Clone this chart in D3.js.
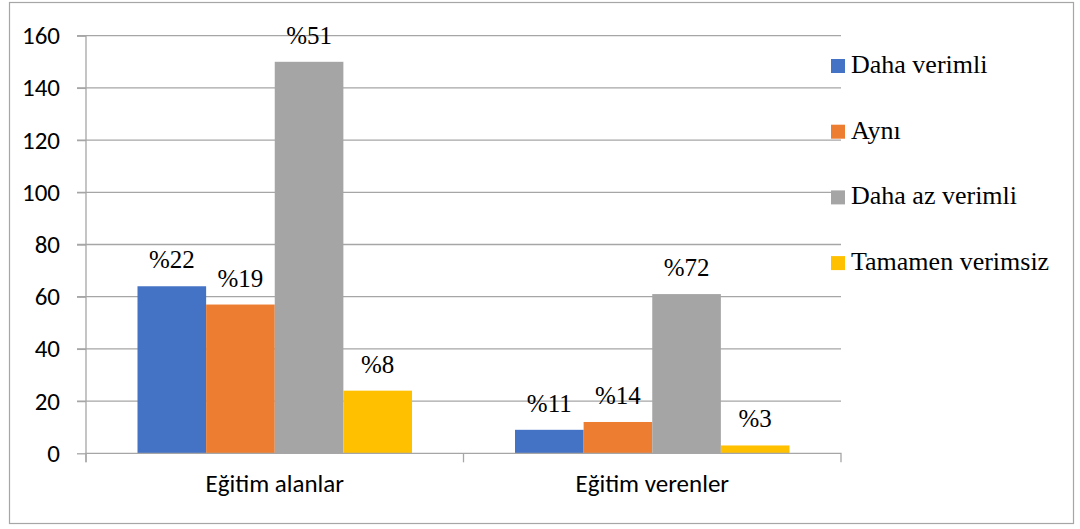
<!DOCTYPE html>
<html><head><meta charset="utf-8">
<script src="https://cdn.jsdelivr.net/npm/d3@7"></script>
</head><body>
<script>
const categories = ["Eğitim alanlar", "Eğitim verenler"];
const seriesNames = ["Daha verimli", "Aynı", "Daha az verimli", "Tamamen verimsiz"];
const seriesColors = ["#4472C4", "#ED7D31", "#A5A5A5", "#FFC000"];
const values = [
  [64, 57, 150, 24],
  [9, 12, 61, 3]
];
const pctLabels = [
  ["%22", "%19", "%51", "%8"],
  ["%11", "%14", "%72", "%3"]
];
const yTicks = [0, 20, 40, 60, 80, 100, 120, 140, 160];

const W = 1080, H = 529;
d3.select("body").style("margin", "0px").style("background", "#fff");
const svg = d3.select("body").append("svg").attr("width", W).attr("height", H).style("display", "block");
svg.append("rect").attr("x", 9.5).attr("y", 2.5).attr("width", 1064).attr("height", 521)
  .attr("fill", "#fff").attr("stroke", "#a6a6a6").attr("stroke-width", 1.2);

const pLeft = 86, pRight = 841, pTop = 35.7, pBottom = 453.3;
const yScale = d3.scaleLinear().domain([0, 160]).range([pBottom, pTop]);
const x0 = d3.scaleBand().domain(categories).range([pLeft, pRight]).paddingInner(0).paddingOuter(0);
const x1 = d3.scaleBand().domain(seriesNames).range([51.5, x0.bandwidth() - 51.5]).padding(0);
const gridColor = "#a6a6a6";

svg.append("g").selectAll("line").data(yTicks.filter(d => d > 0)).join("line")
  .attr("x1", pLeft - 9).attr("x2", pRight).attr("y1", d => yScale(d)).attr("y2", d => yScale(d))
  .attr("stroke", gridColor).attr("stroke-width", 1.3);

const yAxis = d3.axisLeft(yScale).tickValues(yTicks).tickSize(9).tickPadding(17);
const gy = svg.append("g").attr("transform", `translate(${pLeft},0)`).call(yAxis);
gy.select(".domain").attr("stroke", gridColor).attr("stroke-width", 1.3).attr("d", `M-9,${pTop}H0V${pBottom + 9}`);
gy.selectAll(".tick line").attr("stroke", gridColor).attr("stroke-width", 1.3);
gy.selectAll(".tick text").style("font-family", () => '"Carlito"').style("font-size", "25px").attr("fill", "#000");

const groups = svg.append("g").selectAll("g").data(categories).join("g")
  .attr("transform", d => `translate(${x0(d)},0)`);
groups.selectAll("rect").data((c, i) => values[i].map((v, j) => ({ v, s: seriesNames[j], j })))
  .join("rect")
  .attr("x", d => x1(d.s)).attr("width", x1.bandwidth())
  .attr("y", d => yScale(d.v)).attr("height", d => yScale(0) - yScale(d.v))
  .attr("fill", d => seriesColors[d.j]);

const xAxis = d3.axisBottom(x0).tickSize(0).tickPadding(21);
const gx = svg.append("g").attr("transform", `translate(0,${pBottom})`).call(xAxis);
gx.select(".domain").attr("stroke", gridColor).attr("stroke-width", 1.3).attr("d", `M${pLeft},9V0H${pRight}V9`);
gx.selectAll(".tick text").style("font-family", () => '"Carlito"').style("font-size", "25px").attr("fill", "#000").attr("dy", "0.71em");
svg.append("g").selectAll("line").data(categories.slice(1)).join("line")
  .attr("x1", d => x0(d)).attr("x2", d => x0(d)).attr("y1", pBottom).attr("y2", pBottom + 9)
  .attr("stroke", gridColor).attr("stroke-width", 1.3);

// data labels drawn directly on the svg root, with absolute x from the scales
const labelData = [];
categories.forEach((c, i) => values[i].forEach((v, j) => labelData.push({ c, v, s: seriesNames[j], t: pctLabels[i][j] })));
svg.selectAll("text.lbl").data(labelData).join("text").attr("class", "lbl")
  .attr("x", d => x0(d.c) + x1(d.s) + x1.bandwidth() / 2).attr("y", d => yScale(d.v) - 18)
  .attr("text-anchor", "middle")
  .style("font-family", d => '"Liberation Serif"').style("font-size", "25px")
  .attr("fill", "#000").text(d => d.t);

// legend
svg.selectAll("rect.leg").data(seriesNames).join("rect").attr("class", "leg")
  .attr("x", 831).attr("y", (d, i) => 59 + i * 65.7).attr("width", 14).attr("height", 14)
  .attr("fill", (d, i) => seriesColors[i]);
svg.selectAll("text.legt").data(seriesNames).join("text").attr("class", "legt")
  .attr("x", 851).attr("y", (d, i) => 73 + i * 65.7)
  .style("font-family", d => '"Liberation Serif"').style("font-size", "26px")
  .attr("fill", "#000").text(d => d);
</script>
</body></html>
